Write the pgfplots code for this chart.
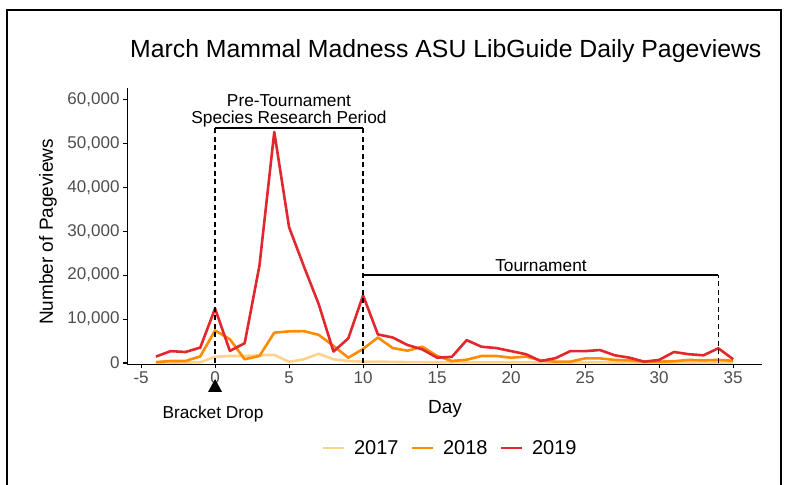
\documentclass[border=0pt]{standalone}
\usepackage{pgfplots}
\pgfplotsset{compat=1.18}
\usepackage{fontspec}
\setmainfont{Liberation Sans}
\definecolor{c17}{HTML}{FDD38A}
\definecolor{c18}{HTML}{FF8C00}
\definecolor{c19}{HTML}{E0282E}
\definecolor{tickgray}{HTML}{4D4D4D}
\pgfplotstableread{
day v
-4 100
-3 100
-2 100
-1 150
0 1400
1 1600
2 1600
3 1750
4 1850
5 250
6 850
7 2100
8 850
9 450
10 300
11 300
12 250
13 200
14 200
15 150
16 150
17 150
18 150
19 150
20 150
21 150
22 100
23 100
24 100
25 150
26 150
27 100
28 100
29 100
30 100
31 100
32 100
33 100
34 100
35 100
}\dataA
\pgfplotstableread{
day v
-4 200
-3 450
-2 450
-1 1500
0 7400
1 5400
2 850
3 1600
4 6900
5 7200
6 7250
7 6400
8 3900
9 1200
10 3200
11 5800
12 3400
13 2800
14 3700
15 1600
16 450
17 750
18 1600
19 1600
20 1200
21 1450
22 600
23 300
24 300
25 1050
26 1050
27 700
28 600
29 300
30 300
31 400
32 700
33 600
34 700
35 500
}\dataB
\pgfplotstableread{
day v
-4 1450
-3 2700
-2 2500
-1 3500
0 12400
1 2750
2 4500
3 22200
4 52600
5 30900
6 22000
7 13400
8 2600
9 5600
10 15400
11 6500
12 5800
13 4100
14 3100
15 1200
16 1400
17 5200
18 3700
19 3400
20 2700
21 2000
22 450
23 1100
24 2700
25 2700
26 2950
27 1750
28 1200
29 300
30 700
31 2500
32 2000
33 1750
34 3350
35 850
}\dataC
\begin{document}
\begin{tikzpicture}
\useasboundingbox (0,0) rectangle (788bp,-485bp);
\draw[line width=1.5bp] (7bp,-490bp) -- (7bp,-10bp) -- (781bp,-10bp) -- (781bp,-490bp);
\begin{axis}[
  at={(127bp,-364.3bp)}, anchor=south west, scale only axis,
  width=635bp, height=276.3bp,
  xmin=-5.95, xmax=36.95, ymin=-300, ymax=62600,
  axis x line*=bottom, axis y line*=left,
  axis line style={line width=0.8bp, black, -},
  xtick={-5,0,...,35}, ytick={0,10000,...,60000},
  tick align=outside, major tick length=4bp,
  tick style={line width=1.1bp, black},
  scaled y ticks=false,
  /pgf/number format/assume math mode=true,
  yticklabel style={/pgf/number format/1000 sep={,}},
  tick label style={font=\fontsize{17bp}{20bp}\selectfont, text=tickgray},
  clip=false,
  legend style={at={(0.5087,-0.303)}, anchor=center, draw=none, fill=none,
    legend columns=3, font=\fontsize{20bp}{23bp}\selectfont,
    /tikz/every even column/.append style={column sep=10bp}},
  legend image code/.code={\draw[#1, line width=2.5bp] (0bp,0bp) -- (21bp,0bp); \path (28bp,0bp);},
  every axis plot/.append style={line width=2.6bp, line join=round},
]
\addplot[c17, mark=none] table[x=day, y=v] {\dataA};
\addplot[c18, mark=none] table[x=day, y=v] {\dataB};
\addplot[c19, mark=none] table[x=day, y=v] {\dataC};
\legend{2017, 2018, 2019}
\draw[line width=1.3bp, dash pattern=on 5bp off 3.5bp] (axis cs:0,0) -- (axis cs:0,53500);
\draw[line width=1.3bp, dash pattern=on 5bp off 3.5bp] (axis cs:10,0) -- (axis cs:10,53500);
\draw[line width=1.3bp, dash pattern=on 5bp off 3.5bp] (axis cs:34,0) -- (axis cs:34,20000);
\draw[line width=1.3bp] (axis cs:0,53500) -- (axis cs:10,53500);
\draw[line width=1.3bp] (axis cs:10,20000) -- (axis cs:34,20000);
\fill[black] (axis cs:0,-3640) -- ++(-7bp,-13bp) -- ++(14bp,0bp) -- cycle;
\end{axis}
\node[anchor=base west, font=\fontsize{24.8bp}{29bp}\selectfont, inner sep=0] at (130bp,-57bp) {March Mammal Madness ASU LibGuide Daily Pageviews};
\node[rotate=90, font=\fontsize{19bp}{22bp}\selectfont, inner sep=0] at (48bp,-232bp) {Number of Pageviews};
\node[anchor=base, font=\fontsize{19bp}{22bp}\selectfont, inner sep=0] at (445bp,-413bp) {Day};
\node[anchor=base, font=\fontsize{17.3bp}{20bp}\selectfont, inner sep=0] at (289bp,-106bp) {Pre-Tournament};
\node[anchor=base, font=\fontsize{17.3bp}{20bp}\selectfont, inner sep=0] at (289bp,-123bp) {Species Research Period};
\node[anchor=base, font=\fontsize{17.3bp}{20bp}\selectfont, inner sep=0] at (541bp,-271bp) {Tournament};
\node[anchor=base, font=\fontsize{17.3bp}{20bp}\selectfont, inner sep=0] at (213bp,-418bp) {Bracket Drop};
\end{tikzpicture}
\end{document}
